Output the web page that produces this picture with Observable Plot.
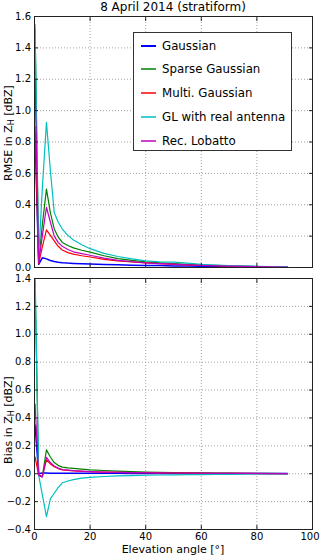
<!DOCTYPE html>
<html><head><meta charset="utf-8">
<script src="https://cdn.jsdelivr.net/npm/d3@7"></script>
<script src="https://cdn.jsdelivr.net/npm/@observablehq/plot@0.6"></script>
<style>
body{margin:0;background:#fff;font-family:"DejaVu Sans",sans-serif;}
#wrap{position:relative;width:320px;height:556px;overflow:hidden;}
#title{position:absolute;left:34px;width:278px;top:1px;text-align:center;font-size:12px;line-height:12px;color:#000;}
#top{position:absolute;left:0;top:12px;}
#bot{position:absolute;left:0;top:272px;}
#legend{position:absolute;left:133px;top:32px;width:159px;height:119px;box-sizing:border-box;border:1px solid #333;background:#fff;}
.item{position:absolute;left:0;height:16px;}
.sw{position:absolute;left:7px;width:15px;top:7px;height:2px;}
.lab{position:absolute;left:28px;top:0;font-size:11.8px;line-height:16px;white-space:nowrap;color:#000;}
</style></head>
<body><div id="wrap">
<div id="title"></div>
<div id="top"></div>
<div id="bot"></div>
<div id="legend"></div>
</div>
<script>
// ---- data ----
const seriesNames = ["Gaussian", "Sparse Gaussian", "Multi. Gaussian", "GL with real antenna", "Rec. Lobatto"];
const seriesColors = ["#0000ff", "#008000", "#ff0000", "#00bfbf", "#bf00bf"];
const elevation = [0.2, 1.5, 2.8, 4.3, 5.7, 7.1, 8.5, 10, 12, 14, 17, 20, 25, 30, 35, 40, 45, 50, 55, 60, 65, 70, 75, 80, 85, 91];

const rmseGaussian = [0.85, 0.02, 0.062, 0.055, 0.045, 0.038, 0.034, 0.031, 0.028, 0.026, 0.024, 0.022, 0.019, 0.017, 0.015, 0.013, 0.012, 0.010, 0.009, 0.008, 0.007, 0.006, 0.005, 0.004, 0.003, 0.003];
const rmseSparse   = [1.52, 0.04, 0.27, 0.50, 0.35, 0.246, 0.195, 0.16, 0.14, 0.125, 0.11, 0.098, 0.075, 0.057, 0.045, 0.036, 0.030, 0.025, 0.020, 0.016, 0.013, 0.010, 0.008, 0.006, 0.005, 0.004];
const rmseMulti    = [0.90, 0.025, 0.13, 0.24, 0.205, 0.17, 0.135, 0.112, 0.095, 0.085, 0.075, 0.067, 0.052, 0.042, 0.035, 0.029, 0.024, 0.020, 0.016, 0.013, 0.011, 0.009, 0.007, 0.005, 0.004, 0.003];
const rmseGL       = [1.55, 0.065, 0.50, 0.925, 0.62, 0.35, 0.29, 0.245, 0.205, 0.175, 0.145, 0.12, 0.09, 0.07, 0.055, 0.042, 0.036, 0.034, 0.028, 0.020, 0.016, 0.012, 0.010, 0.008, 0.006, 0.005];
const rmseLobatto  = [1.20, 0.03, 0.20, 0.384, 0.29, 0.20, 0.16, 0.135, 0.115, 0.10, 0.088, 0.078, 0.060, 0.046, 0.037, 0.030, 0.025, 0.021, 0.017, 0.014, 0.011, 0.009, 0.007, 0.005, 0.004, 0.003];

const biasGaussian = [0.35, 0.0, 0.005, 0.005, 0.004, 0.004, 0.004, 0.004, 0.004, 0.004, 0.003, 0.003, 0.003, 0.003, 0.002, 0.002, 0.002, 0.002, 0.002, 0.001, 0.001, 0.001, 0.001, 0.001, 0.001, 0.001];
const biasSparse   = [1.38, -0.01, -0.02, 0.171, 0.12, 0.08, 0.06, 0.047, 0.042, 0.038, 0.033, 0.028, 0.023, 0.018, 0.015, 0.012, 0.010, 0.008, 0.007, 0.006, 0.005, 0.004, 0.003, 0.002, 0.002, 0.001];
const biasMulti    = [0.12, -0.01, -0.02, 0.10, 0.07, 0.05, 0.037, 0.028, 0.024, 0.020, 0.017, 0.014, 0.011, 0.009, 0.008, 0.007, 0.006, 0.005, 0.004, 0.003, 0.003, 0.002, 0.002, 0.001, 0.001, 0.001];
const biasGL       = [1.45, -0.01, -0.15, -0.307, -0.18, -0.14, -0.10, -0.065, -0.052, -0.042, -0.032, -0.026, -0.020, -0.016, -0.013, -0.011, -0.009, -0.008, -0.007, -0.006, -0.005, -0.004, -0.003, -0.002, -0.002, -0.001];
const biasLobatto  = [0.50, -0.01, -0.025, 0.118, 0.08, 0.055, 0.04, 0.030, 0.026, 0.022, 0.018, 0.015, 0.012, 0.010, 0.008, 0.007, 0.006, 0.005, 0.004, 0.004, 0.003, 0.003, 0.002, 0.002, 0.001, 0.001];

const xTicks = [0, 20, 40, 60, 80, 100];
const rmseTicks = [0, 0.2, 0.4, 0.6, 0.8, 1.0, 1.2, 1.4, 1.6];
const biasTicks = [-0.4, -0.2, 0, 0.2, 0.4, 0.6, 0.8, 1.0, 1.2, 1.4];

const title = "8 April 2014 (stratiform)";
const xLabel = "Elevation angle [°]";

// ---- build tables ----
const rmseSeries = [rmseGaussian, rmseSparse, rmseMulti, rmseGL, rmseLobatto];
const biasSeries = [biasGaussian, biasSparse, biasMulti, biasGL, biasLobatto];
function table(series) {
  return elevation.map((e, i) => {
    const row = {elev: e};
    seriesNames.forEach((n, k) => row[n] = series[k][i]);
    return row;
  });
}
const rmseRows = table(rmseSeries);
const biasRows = table(biasSeries);

const gridStyle = {stroke: "#999", strokeOpacity: 1, strokeDasharray: "1,2", strokeWidth: 0.9};
const frameColor = "#222";

function panel(rows, yDomain, yTicks, height, marginTop, marginBottom, showX) {
  const marks = [
    Plot.gridX({ticks: xTicks, ...gridStyle}),
    Plot.gridY({ticks: yTicks, ...gridStyle}),
    ...seriesNames.map((n, k) => Plot.line(rows, {x: "elev", y: n, stroke: seriesColors[k], strokeWidth: k === 0 ? 1.5 : 1.2, clip: true})),
    Plot.frame({stroke: frameColor, strokeWidth: 1}),
    Plot.axisY({ticks: yTicks, tickSize: -4, tickPadding: 7.5, tickFormat: d3.format(".1f"), label: null, fontSize: 10, stroke: frameColor, color: "#000"}),
    Plot.axisY({anchor: "right", ticks: yTicks, tickSize: -4, tickFormat: () => "", label: null, stroke: frameColor}),
    Plot.axisX({anchor: "top", ticks: xTicks, tickSize: -4, tickFormat: () => "", label: null, stroke: frameColor}),
    Plot.axisX({anchor: "bottom", ticks: xTicks, tickSize: -4, tickPadding: 7, tickFormat: showX ? (d => String(d)) : (() => ""), label: null, fontSize: 10, stroke: frameColor, color: "#000"})
  ];
  const svg = Plot.plot({
    width: 320, height, marginTop, marginBottom, marginLeft: 34, marginRight: 8,
    x: {domain: [0, 100]},
    y: {domain: yDomain},
    style: {fontFamily: "DejaVu Sans", fontSize: "10px", background: "transparent", overflow: "visible", color: "#000"},
    marks
  });
  d3.select(svg).selectAll("text").filter(function() { return this.textContent === ""; }).remove();
  // keep the last x tick label inside the picture, as in the reference
  d3.select(svg).selectAll("text").filter(function() { return this.textContent === "100"; }).attr("dx", -2.5);
  return svg;
}

function yLabel(svg, cy, pre) {
  const t = d3.select(svg).append("text")
    .attr("transform", `translate(11.7,${cy}) rotate(-90)`)
    .attr("text-anchor", "middle")
    .attr("font-family", "DejaVu Sans")
    .attr("font-size", 11)
    .attr("fill", "#000");
  t.append("tspan").text(pre + " Z");
  t.append("tspan").attr("font-size", 8).attr("dy", 2).text("H");
  t.append("tspan").attr("dy", -2).text(" [dBZ]");
}

const svgTop = panel(rmseRows, [0, 1.6], rmseTicks, 260, 4, 5, false);
yLabel(svgTop, 121, "RMSE in");
document.getElementById("top").appendChild(svgTop);

const svgBot = panel(biasRows, [-0.4, 1.4], biasTicks, 284, 6, 27, true);
yLabel(svgBot, 148, "Bias in");
d3.select(svgBot).append("text")
  .attr("x", 173).attr("y", 281)
  .attr("text-anchor", "middle")
  .attr("font-family", "DejaVu Sans").attr("font-size", 11).attr("fill", "#000")
  .text(xLabel);
document.getElementById("bot").appendChild(svgBot);

document.getElementById("title").textContent = title;

// ---- legend ----
const legend = document.getElementById("legend");
const rowY = [4.5, 28.3, 52.1, 75.9, 99.7];
seriesNames.forEach((n, k) => {
  const item = document.createElement("div");
  item.className = "item";
  item.style.top = rowY[k] + "px";
  const sw = document.createElement("div");
  sw.className = "sw";
  sw.style.background = seriesColors[k];
  sw.style.opacity = k === 0 ? 1 : 0.75;
  const lab = document.createElement("div");
  lab.className = "lab";
  lab.textContent = n;
  item.appendChild(sw); item.appendChild(lab);
  legend.appendChild(item);
});
</script>
</body></html>
